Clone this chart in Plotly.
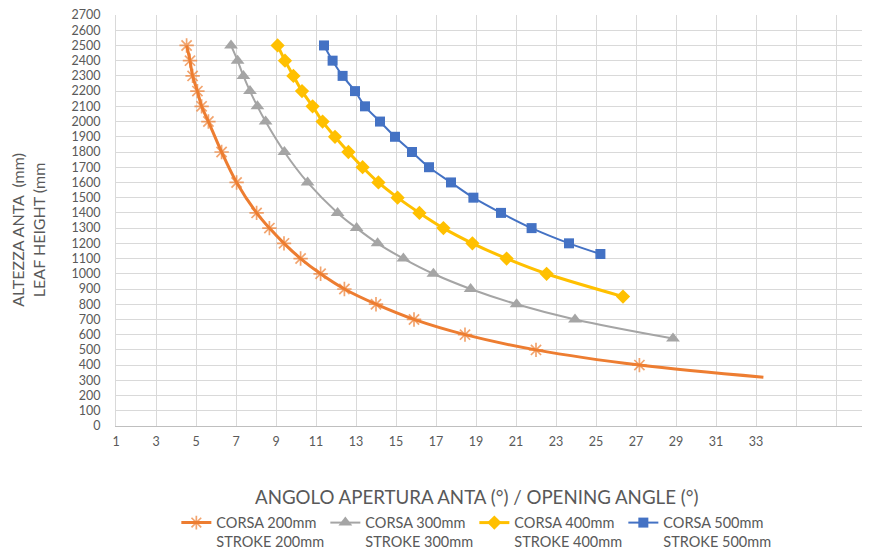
import plotly.graph_objects as go

# ---- data ----
heights_200 = [2500, 2400, 2300, 2200, 2100, 2000, 1800, 1600, 1400, 1300, 1200, 1100, 1000, 900, 800, 700, 600, 500, 400, 320]
angles_200 = [4.53, 4.7, 4.83, 5.07, 5.28, 5.62, 6.28, 7.03, 8.03, 8.67, 9.4, 10.23, 11.23, 12.42, 14.0, 15.9, 18.45, 22.0, 27.17, 33.37]
markers_200 = [1] * 19 + [0]

heights_300 = [2500, 2400, 2300, 2200, 2100, 2000, 1800, 1600, 1400, 1300, 1200, 1100, 1000, 900, 800, 700, 575]
angles_300 = [6.75, 7.08, 7.37, 7.7, 8.07, 8.48, 9.42, 10.58, 12.08, 13.03, 14.08, 15.37, 16.87, 18.73, 21.03, 23.95, 28.85]

heights_400 = [2500, 2400, 2300, 2200, 2100, 2000, 1900, 1800, 1700, 1600, 1500, 1400, 1300, 1200, 1100, 1000, 850]
angles_400 = [9.08, 9.45, 9.87, 10.3, 10.83, 11.33, 11.95, 12.62, 13.33, 14.12, 15.08, 16.17, 17.37, 18.82, 20.53, 22.53, 26.35]

heights_500 = [2500, 2400, 2300, 2200, 2100, 2000, 1900, 1800, 1700, 1600, 1500, 1400, 1300, 1200, 1130]
angles_500 = [11.4, 11.83, 12.33, 12.95, 13.45, 14.2, 14.95, 15.8, 16.65, 17.75, 18.87, 20.25, 21.78, 23.65, 25.22]

series_names = [
    "CORSA 200mm<br>STROKE 200mm",
    "CORSA 300mm<br>STROKE 300mm",
    "CORSA 400mm<br>STROKE 400mm",
    "CORSA 500mm<br>STROKE 500mm",
]

x_tick_vals = list(range(1, 38, 2))
x_tick_text = [str(v) if v <= 33 else "" for v in x_tick_vals]
y_tick_vals = list(range(0, 2701, 100))

FONT = "Lato, 'Open Sans', sans-serif"
TXT = "#595959"

fig = go.Figure()

fig.add_trace(go.Scatter(
    x=angles_200, y=heights_200, name=series_names[0], mode="lines+markers",
    line=dict(color="#ED7D31", width=3, shape="spline"),
    marker=dict(symbol="asterisk-open", size=[12 * m for m in markers_200],
                color="#ED7D31", line=dict(color="#ED7D31", width=1.7)),
))
fig.add_trace(go.Scatter(
    x=angles_300, y=heights_300, name=series_names[1], mode="lines+markers",
    line=dict(color="#A5A5A5", width=2, shape="spline"),
    marker=dict(symbol="triangle-up", size=12, color="#A5A5A5"),
))
fig.add_trace(go.Scatter(
    x=angles_400, y=heights_400, name=series_names[2], mode="lines+markers",
    line=dict(color="#FFC000", width=3, shape="spline"),
    marker=dict(symbol="diamond", size=11, color="#FFC000"),
))
fig.add_trace(go.Scatter(
    x=angles_500, y=heights_500, name=series_names[3], mode="lines+markers",
    line=dict(color="#4472C4", width=2, shape="spline"),
    marker=dict(symbol="square", size=10, color="#4472C4"),
))

fig.update_layout(
    width=862, height=545,
    margin=dict(l=108, r=0, t=7, b=127),
    paper_bgcolor="white", plot_bgcolor="white",
    font=dict(family=FONT, color=TXT, size=12),
    showlegend=True,
    legend=dict(orientation="h", xref="container", yref="container",
                x=0.541, xanchor="center", y=0.085, yanchor="top",
                font=dict(size=14.5, color=TXT, family=FONT), valign="top",
                entrywidth=104, entrywidthmode="pixels",
                itemwidth=30, traceorder="normal"),
    annotations=[
        dict(text="ANGOLO APERTURA ANTA (°) / OPENING ANGLE (°)", xref="paper", yref="paper",
             x=0.4775, y=-0.173, xanchor="center", yanchor="middle", showarrow=False,
             font=dict(size=18.7, color=TXT, family=FONT)),
        dict(text="ALTEZZA ANTA  (mm)<br>LEAF HEIGHT (mm", xref="paper", yref="paper",
             x=-0.117, y=0.477, xanchor="center", yanchor="middle", showarrow=False,
             textangle=-90, font=dict(size=16, color=TXT, family=FONT)),
    ],
)

fig.update_xaxes(
    range=[1, 38.7], tickmode="array", tickvals=x_tick_vals, ticktext=x_tick_text,
    showgrid=True, gridcolor="#D9D9D9", gridwidth=1,
    showline=True, linecolor="#BFBFBF", linewidth=1,
    zeroline=False, ticks="", ticklabelstandoff=4,
    tickfont=dict(size=12.5, color=TXT, family=FONT),
)
fig.update_yaxes(
    range=[0, 2700], tickmode="array", tickvals=y_tick_vals,
    showgrid=True, gridcolor="#D9D9D9", gridwidth=1,
    showline=True, linecolor="#D9D9D9", linewidth=1,
    zeroline=False, ticks="", ticklabelstandoff=12,
    ticklabeloverflow="allow",
    tickfont=dict(size=12.5, color=TXT, family=FONT),
)

fig.write_html("out.html")
